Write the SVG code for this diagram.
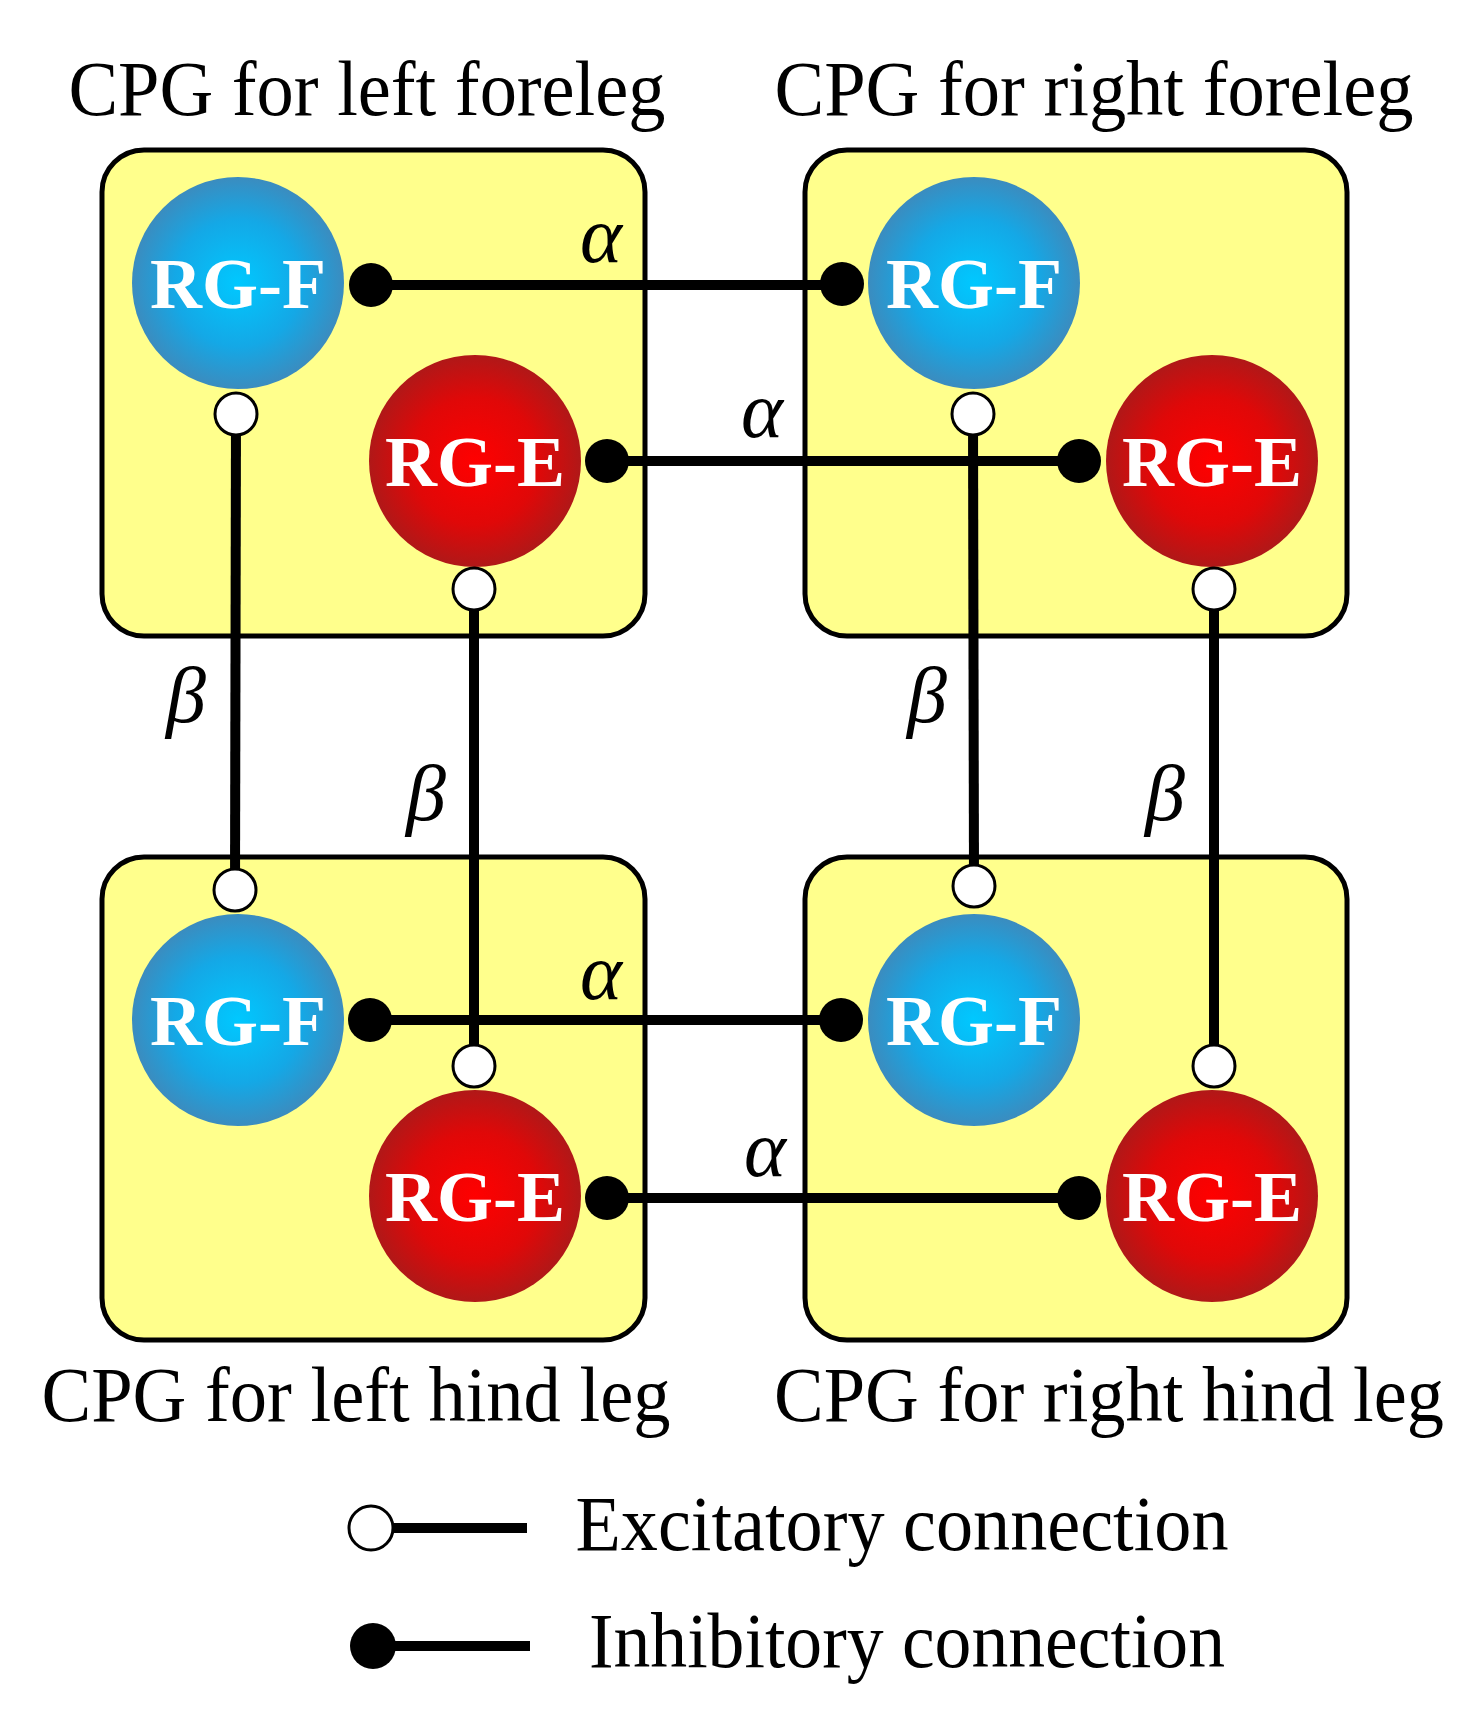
<svg xmlns="http://www.w3.org/2000/svg" width="1480" height="1720" viewBox="0 0 1480 1720">
<defs>
<radialGradient id="gb"><stop offset="0" stop-color="#00c8ff"/><stop offset="0.6" stop-color="#14a8e6"/><stop offset="1" stop-color="#3b8cbf"/></radialGradient>
<radialGradient id="gr"><stop offset="0" stop-color="#ff0000"/><stop offset="0.6" stop-color="#e00808"/><stop offset="1" stop-color="#b01818"/></radialGradient>
<style>
.box{fill:#ffff8c;stroke:#000;stroke-width:5}
.t{font-family:"Liberation Serif",serif;font-size:78px;fill:#000;text-anchor:middle}
.rg{font-family:"Liberation Serif",serif;font-weight:bold;font-size:72px;fill:#fff;text-anchor:middle}
.g{font-family:"Liberation Serif",serif;font-style:italic;font-size:80px;fill:#000;text-anchor:middle}
.ln{stroke:#000;stroke-width:10;fill:none}
.inh{fill:#000}
.exc{fill:#fff;stroke:#000;stroke-width:3}
</style>
</defs>
<rect width="1480" height="1720" fill="#fff"/>
<g id="lf"><rect class="box" x="102" y="150" width="543" height="486" rx="42"/>
<circle cx="238" cy="283" r="106" fill="url(#gb)"/><text class="rg" x="238" y="308">RG-F</text>
<circle cx="475" cy="461" r="106" fill="url(#gr)"/><text class="rg" x="475" y="486">RG-E</text></g>
<g id="rf"><rect class="box" x="805" y="150" width="542" height="486" rx="42"/>
<circle cx="974" cy="283" r="106" fill="url(#gb)"/><text class="rg" x="974" y="308">RG-F</text>
<circle cx="1212" cy="461" r="106" fill="url(#gr)"/><text class="rg" x="1212" y="486">RG-E</text></g>
<g id="lh"><rect class="box" x="102" y="857" width="543" height="483" rx="42"/>
<circle cx="238" cy="1020" r="106" fill="url(#gb)"/><text class="rg" x="238" y="1045">RG-F</text>
<circle cx="475" cy="1196" r="106" fill="url(#gr)"/><text class="rg" x="475" y="1221">RG-E</text></g>
<g id="rh"><rect class="box" x="805" y="857" width="542" height="483" rx="42"/>
<circle cx="974" cy="1020" r="106" fill="url(#gb)"/><text class="rg" x="974" y="1045">RG-F</text>
<circle cx="1212" cy="1196" r="106" fill="url(#gr)"/><text class="rg" x="1212" y="1221">RG-E</text></g>
<g id="connectors">
<line class="ln" x1="371" y1="285" x2="842" y2="285"/>
<line class="ln" x1="607" y1="461" x2="1079" y2="461"/>
<line class="ln" x1="370" y1="1020" x2="841" y2="1020"/>
<line class="ln" x1="607" y1="1198" x2="1079" y2="1198"/>
<line class="ln" x1="236" y1="414" x2="235" y2="890"/>
<line class="ln" x1="474" y1="589" x2="474" y2="1066"/>
<line class="ln" x1="973" y1="414" x2="974" y2="886"/>
<line class="ln" x1="1214" y1="589" x2="1214" y2="1066"/>
<circle class="inh" cx="371" cy="285" r="22"/><circle class="inh" cx="842" cy="284" r="22"/>
<circle class="inh" cx="607" cy="461" r="22"/><circle class="inh" cx="1079" cy="461" r="22"/>
<circle class="inh" cx="370" cy="1020" r="22"/><circle class="inh" cx="841" cy="1020" r="22"/>
<circle class="inh" cx="607" cy="1198" r="22"/><circle class="inh" cx="1079" cy="1198" r="22"/>
<circle class="exc" cx="236" cy="414" r="21"/><circle class="exc" cx="235" cy="890" r="21"/>
<circle class="exc" cx="474" cy="589" r="21"/><circle class="exc" cx="474" cy="1066" r="21"/>
<circle class="exc" cx="973" cy="414" r="21"/><circle class="exc" cx="974" cy="886" r="21"/>
<circle class="exc" cx="1214" cy="589" r="21"/><circle class="exc" cx="1214" cy="1066" r="21"/>
</g>
<g id="labels">
<text class="g" x="601" y="262">α</text><text class="g" x="762" y="437">α</text>
<text class="g" x="601" y="999">α</text><text class="g" x="765" y="1176">α</text>
<text class="g" x="186" y="722">β</text><text class="g" x="426" y="820">β</text>
<text class="g" x="927" y="722">β</text><text class="g" x="1165" y="820">β</text>
<text class="t" x="367" y="115" textLength="597" lengthAdjust="spacingAndGlyphs">CPG for left foreleg</text>
<text class="t" x="1094" y="115" textLength="639" lengthAdjust="spacingAndGlyphs">CPG for right foreleg</text>
<text class="t" x="356" y="1421" textLength="629" lengthAdjust="spacingAndGlyphs">CPG for left hind leg</text>
<text class="t" x="1109" y="1421" textLength="670" lengthAdjust="spacingAndGlyphs">CPG for right hind leg</text>
</g>
<g id="legend">
<line class="ln" x1="371" y1="1528" x2="527" y2="1528"/><circle class="exc" cx="371" cy="1528" r="22"/>
<text class="t" x="902" y="1550" textLength="653" lengthAdjust="spacingAndGlyphs">Excitatory connection</text>
<line class="ln" x1="373" y1="1646" x2="530" y2="1646"/><circle class="inh" cx="373" cy="1646" r="23"/>
<text class="t" x="907" y="1667" textLength="636" lengthAdjust="spacingAndGlyphs">Inhibitory connection</text>
</g>
</svg>
